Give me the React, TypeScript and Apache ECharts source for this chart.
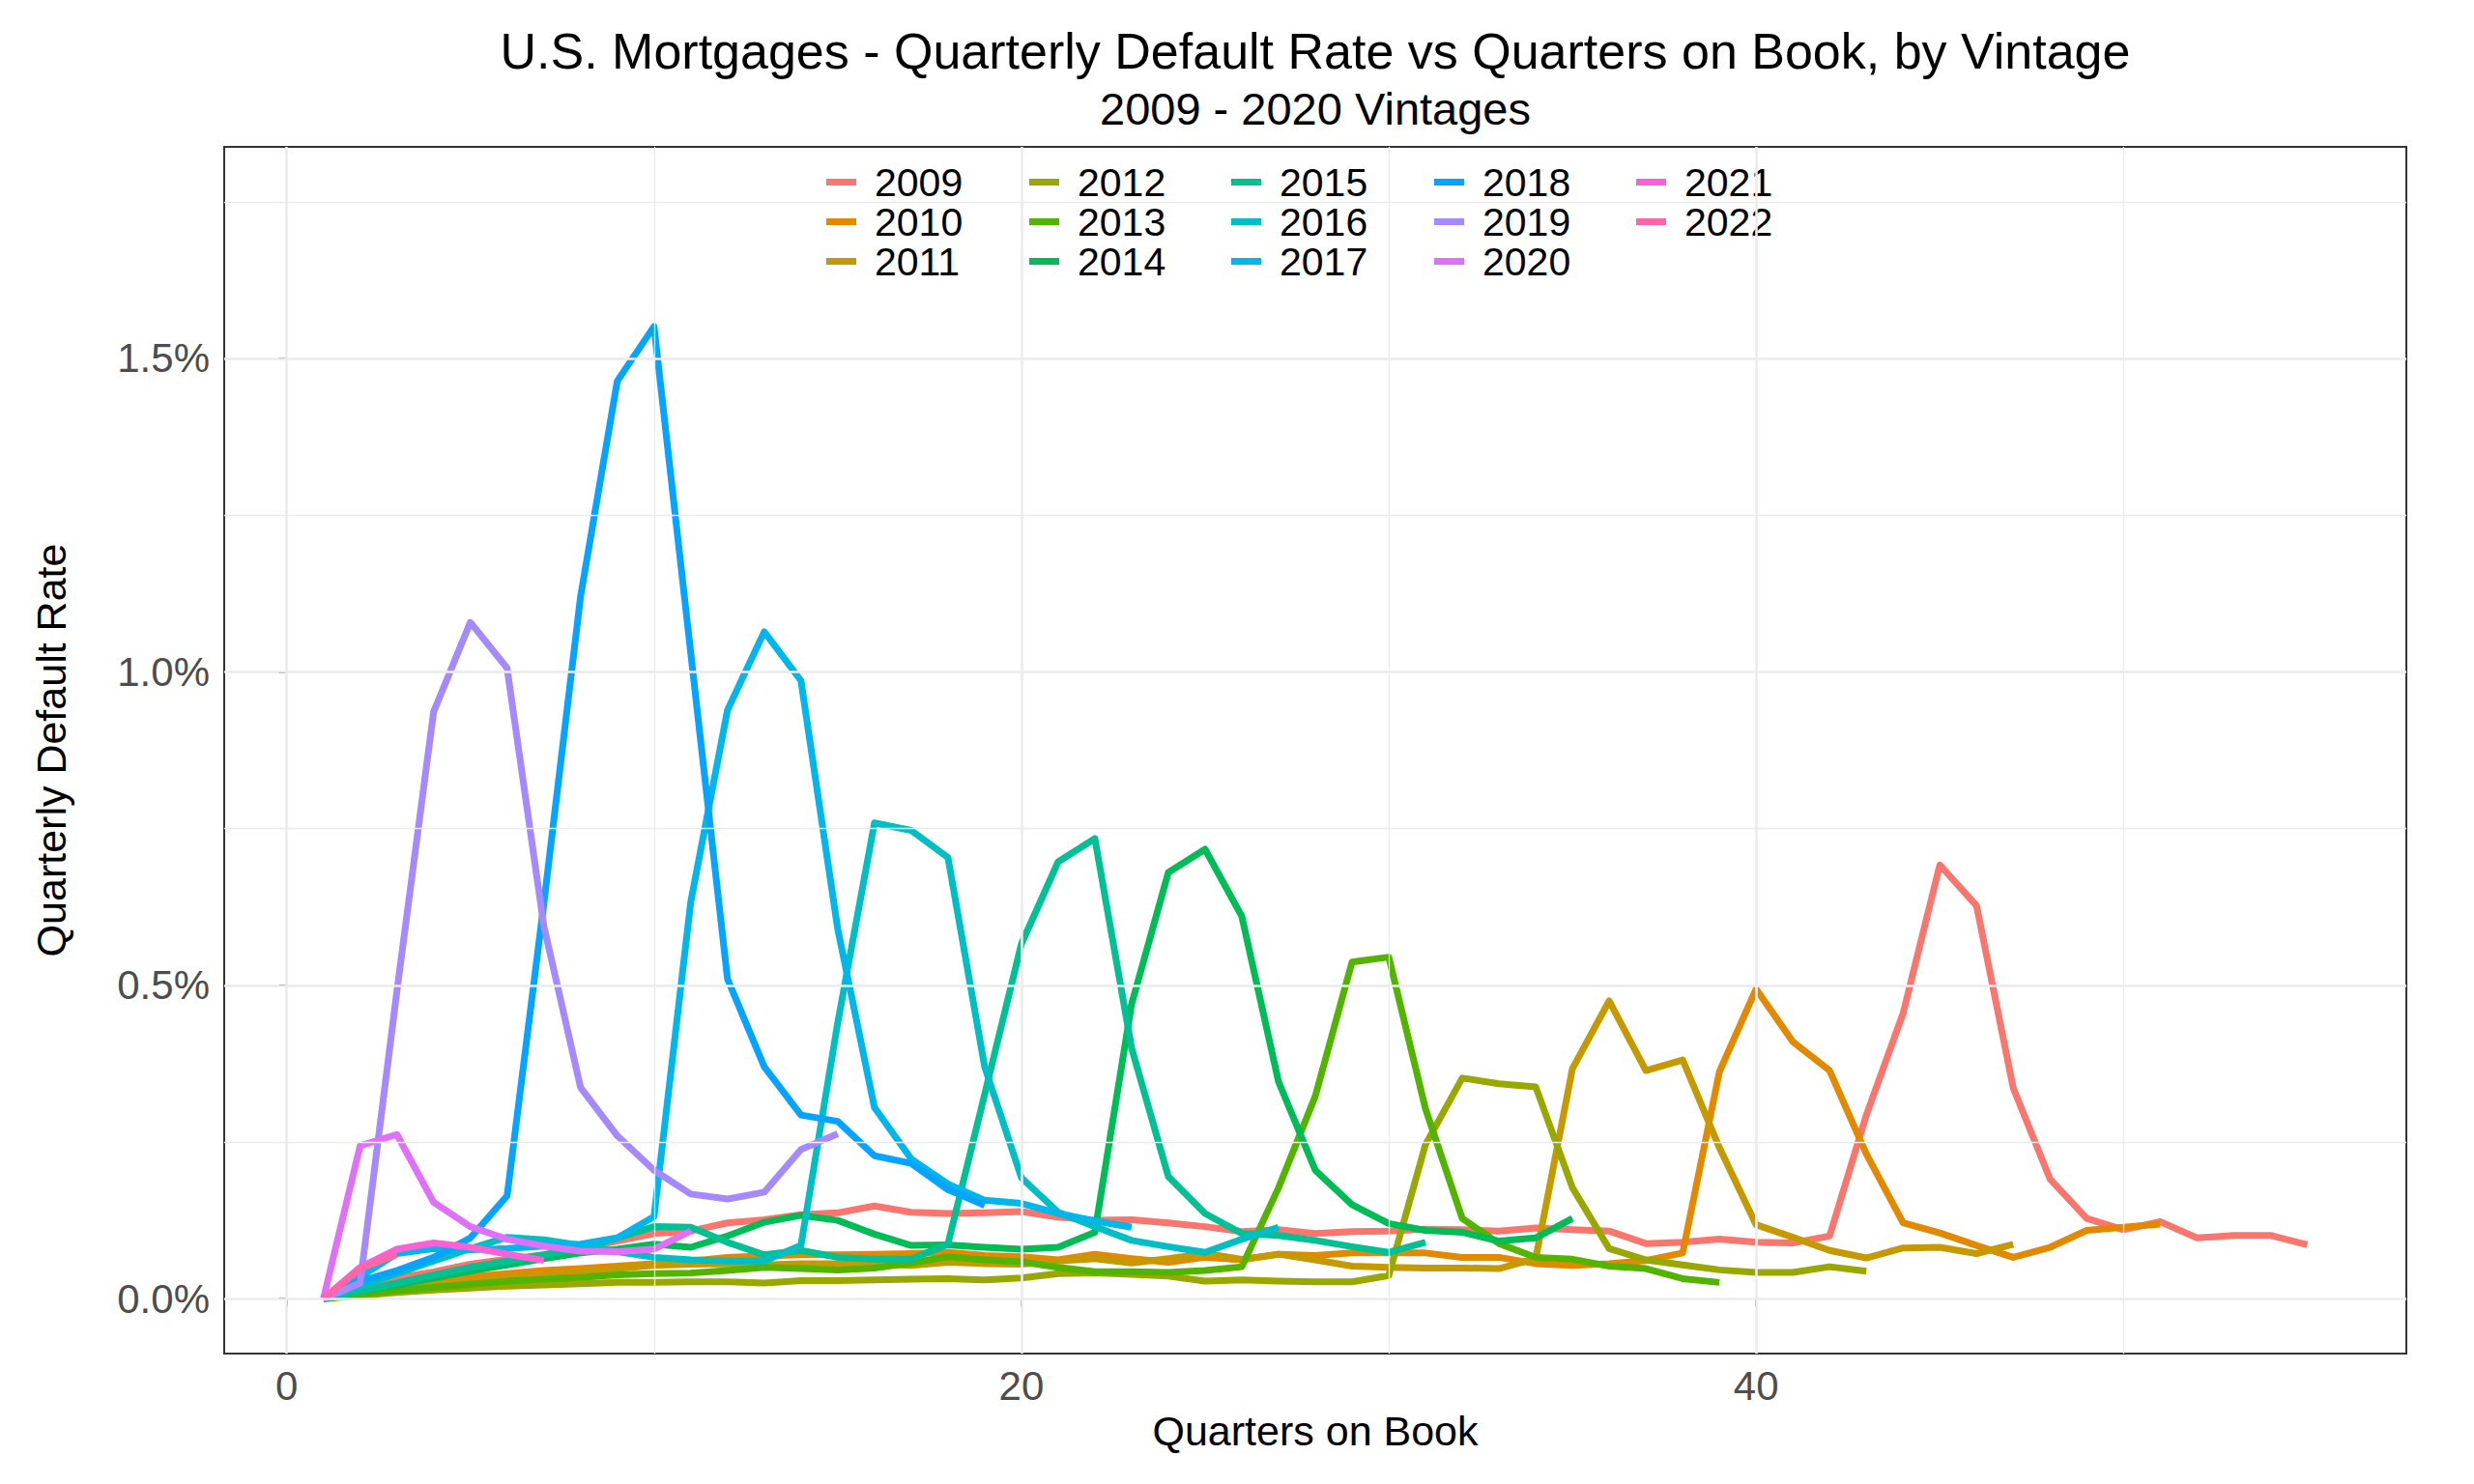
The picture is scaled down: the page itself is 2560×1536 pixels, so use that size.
import React, { useEffect, useRef } from "react";
import * as echarts from "echarts";

const FONT = "'Liberation Sans', Arial, sans-serif";

const vintages = ["2009", "2010", "2011", "2012", "2013", "2014", "2015", "2016", "2017", "2018", "2019", "2020", "2021", "2022"];
const vintageColors = ["#F8766D", "#E38900", "#C49A00", "#99A800", "#53B400", "#00BC56", "#00C094", "#00BFC4", "#00B6EB", "#06A4FF", "#A58AFF", "#DF70F8", "#FB61D7", "#FF66A8"];

// Quarterly default rate (%) by quarter on book (index 0 = quarter 1)
const v2009 = [0, 0.018, 0.033, 0.043, 0.055, 0.063, 0.07, 0.08, 0.092, 0.104, 0.108, 0.121, 0.126, 0.134, 0.137, 0.148, 0.138, 0.136, 0.137, 0.139, 0.13, 0.125, 0.126, 0.121, 0.115, 0.107, 0.11, 0.104, 0.107, 0.108, 0.111, 0.11, 0.108, 0.113, 0.11, 0.108, 0.088, 0.09, 0.095, 0.09, 0.089, 0.1, 0.293, 0.455, 0.692, 0.627, 0.336, 0.191, 0.128, 0.11, 0.123, 0.097, 0.101, 0.101, 0.086];
const v2010 = [0, 0.01, 0.02, 0.028, 0.035, 0.04, 0.045, 0.048, 0.052, 0.056, 0.06, 0.066, 0.068, 0.07, 0.07, 0.071, 0.072, 0.074, 0.069, 0.067, 0.062, 0.071, 0.064, 0.058, 0.066, 0.062, 0.071, 0.069, 0.073, 0.073, 0.073, 0.066, 0.066, 0.056, 0.053, 0.056, 0.061, 0.073, 0.362, 0.494, 0.41, 0.364, 0.231, 0.121, 0.105, 0.085, 0.066, 0.082, 0.109, 0.114, 0.119];
const v2011 = [0, 0.008, 0.016, 0.022, 0.028, 0.033, 0.037, 0.043, 0.048, 0.053, 0.055, 0.056, 0.054, 0.056, 0.056, 0.056, 0.053, 0.058, 0.056, 0.055, 0.06, 0.064, 0.057, 0.064, 0.072, 0.063, 0.071, 0.062, 0.052, 0.05, 0.049, 0.049, 0.048, 0.064, 0.367, 0.475, 0.364, 0.381, 0.241, 0.118, 0.098, 0.077, 0.065, 0.081, 0.082, 0.072, 0.087];
const v2012 = [0, 0.005, 0.01, 0.014, 0.017, 0.02, 0.022, 0.024, 0.026, 0.026, 0.027, 0.027, 0.025, 0.029, 0.029, 0.03, 0.031, 0.032, 0.03, 0.033, 0.04, 0.041, 0.039, 0.036, 0.028, 0.03, 0.028, 0.027, 0.027, 0.037, 0.246, 0.352, 0.343, 0.338, 0.177, 0.08, 0.062, 0.054, 0.046, 0.042, 0.042, 0.051, 0.044];
const v2013 = [0, 0.007, 0.013, 0.018, 0.023, 0.028, 0.031, 0.034, 0.038, 0.04, 0.041, 0.045, 0.05, 0.048, 0.046, 0.049, 0.057, 0.067, 0.062, 0.059, 0.05, 0.043, 0.043, 0.042, 0.045, 0.051, 0.177, 0.323, 0.537, 0.545, 0.303, 0.128, 0.088, 0.066, 0.063, 0.052, 0.048, 0.032, 0.026];
const v2014 = [0, 0.012, 0.022, 0.033, 0.044, 0.054, 0.064, 0.073, 0.079, 0.087, 0.082, 0.1, 0.122, 0.133, 0.125, 0.103, 0.085, 0.086, 0.082, 0.079, 0.082, 0.106, 0.47, 0.68, 0.717, 0.61, 0.346, 0.205, 0.15, 0.12, 0.109, 0.106, 0.092, 0.097, 0.128];
const v2015 = [0, 0.012, 0.025, 0.038, 0.05, 0.06, 0.07, 0.08, 0.097, 0.115, 0.114, 0.09, 0.07, 0.077, 0.066, 0.063, 0.063, 0.087, 0.326, 0.566, 0.697, 0.734, 0.4, 0.195, 0.136, 0.104, 0.101, 0.093, 0.083, 0.074, 0.09];
const v2016 = [0, 0.02, 0.04, 0.06, 0.08, 0.098, 0.094, 0.085, 0.075, 0.066, 0.062, 0.06, 0.06, 0.085, 0.44, 0.759, 0.747, 0.704, 0.37, 0.193, 0.138, 0.115, 0.093, 0.083, 0.074, 0.095, 0.114];
const v2017 = [0, 0.035, 0.072, 0.08, 0.078, 0.08, 0.084, 0.087, 0.097, 0.131, 0.633, 0.939, 1.064, 0.986, 0.59, 0.305, 0.223, 0.183, 0.157, 0.152, 0.136, 0.124, 0.114];
const v2018 = [0, 0.028, 0.045, 0.066, 0.097, 0.164, 0.63, 1.12, 1.464, 1.551, 1.03, 0.51, 0.37, 0.293, 0.283, 0.228, 0.216, 0.174, 0.149];
const v2019 = [0, 0.025, 0.49, 0.936, 1.079, 1.006, 0.595, 0.337, 0.26, 0.205, 0.167, 0.159, 0.17, 0.238, 0.263];
const v2020 = [0, 0.244, 0.262, 0.154, 0.115, 0.095, 0.084, 0.076, 0.075, 0.079, 0.108];
const v2021 = [0, 0.05, 0.079, 0.089, 0.082, 0.071, 0.061];
const v2022 = [0, 0.048, 0.071];

const seriesValues = [v2009, v2010, v2011, v2012, v2013, v2014, v2015, v2016, v2017, v2018, v2019, v2020, v2021, v2022];

const xMajorTicks = [0, 20, 40];
const xMinorTicks = [10, 30, 50];
const yMajorTicks = [0, 0.5, 1.0, 1.5];
const yMinorTicks = [0.25, 0.75, 1.25, 1.75];

const legendColumns = [
  ["2009", "2010", "2011"],
  ["2012", "2013", "2014"],
  ["2015", "2016", "2017"],
  ["2018", "2019", "2020"],
  ["2021", "2022"],
];
const legendLefts = [855, 1065, 1274, 1484, 1693];

export default function App() {
  const ref = useRef<HTMLDivElement>(null);

  useEffect(() => {
    if (!ref.current) return;
    const chart = echarts.init(ref.current, null, { renderer: "svg" });

    const minorStyle = { color: "#EBEBEB", width: 1.3, type: "solid" };
    const majorStyle = { color: "#EBEBEB", width: 2.6, type: "solid" };

    const gridSeries = {
      name: "_grid",
      type: "line",
      data: [[0, 0]],
      symbol: "none",
      showSymbol: false,
      lineStyle: { opacity: 0 },
      silent: true,
      z: 1,
      markLine: {
        silent: true,
        symbol: ["none", "none"],
        label: { show: false },
        emphasis: { disabled: true },
        animation: false,
        data: [
          ...xMinorTicks.map((v) => ({ xAxis: v, lineStyle: minorStyle })),
          ...yMinorTicks.map((v) => ({ yAxis: v, lineStyle: minorStyle })),
          ...xMajorTicks.map((v) => ({ xAxis: v, lineStyle: majorStyle })),
          ...yMajorTicks.map((v) => ({ yAxis: v, lineStyle: majorStyle })),
        ],
      },
    };

    const lineSeries = vintages.map((name, k) => ({
      name,
      type: "line",
      data: seriesValues[k].map((v, i) => [i + 1, v]),
      symbol: "none",
      showSymbol: false,
      silent: true,
      z: 2,
      emphasis: { disabled: true },
      itemStyle: { color: vintageColors[k] },
      lineStyle: { width: 7, color: vintageColors[k], cap: "butt", join: "round" },
    }));

    const legends = legendColumns.map((col, c) => ({
      data: col,
      orient: "vertical",
      left: legendLefts[c],
      top: 168,
      padding: 0,
      itemGap: 0,
      itemWidth: 31,
      itemHeight: 7,
      icon: "rect",
      selectedMode: false,
      backgroundColor: "#ffffff",
      textStyle: {
        fontSize: 41,
        color: "#000000",
        fontFamily: FONT,
        padding: [0, 4, 0, 14],
      },
    }));

    chart.setOption({
      animation: false,
      backgroundColor: "#ffffff",
      title: {
        text: "U.S. Mortgages - Quarterly Default Rate vs Quarters on Book, by Vintage",
        subtext: "2009 - 2020 Vintages",
        left: 1361,
        top: 27,
        textAlign: "center",
        padding: 0,
        itemGap: 10,
        textStyle: { fontSize: 52, fontWeight: "normal", color: "#000000", fontFamily: FONT, lineHeight: 52 },
        subtextStyle: { fontSize: 47, color: "#000000", fontFamily: FONT, lineHeight: 47 },
      },
      legend: legends,
      grid: {
        left: 232,
        top: 152,
        width: 2258,
        height: 1249,
        show: true,
        borderColor: "#333333",
        borderWidth: 2,
        backgroundColor: "#ffffff",
        containLabel: false,
      },
      xAxis: {
        type: "value",
        min: -1.7,
        max: 57.7,
        name: "Quarters on Book",
        nameLocation: "middle",
        nameGap: 55,
        nameTextStyle: { fontSize: 43, color: "#000000", fontFamily: FONT },
        axisLine: { show: false },
        splitLine: { show: false },
        axisTick: { show: true, length: 8, customValues: xMajorTicks, lineStyle: { color: "#333333", width: 2 } },
        axisLabel: {
          customValues: xMajorTicks,
          margin: 12,
          fontSize: 42,
          color: "#4D4D4D",
          fontFamily: FONT,
          formatter: (v: number) => String(v),
        },
      },
      yAxis: {
        type: "value",
        min: -0.0875,
        max: 1.8375,
        name: "Quarterly Default Rate",
        nameLocation: "middle",
        nameGap: 158,
        nameTextStyle: { fontSize: 43, color: "#000000", fontFamily: FONT },
        axisLine: { show: false },
        splitLine: { show: false },
        axisTick: { show: true, length: 8, customValues: yMajorTicks, lineStyle: { color: "#333333", width: 2 } },
        axisLabel: {
          customValues: yMajorTicks,
          margin: 15,
          fontSize: 42,
          color: "#4D4D4D",
          fontFamily: FONT,
          formatter: (v: number) => v.toFixed(1) + "%",
        },
      },
      series: [gridSeries, ...lineSeries],
    });

    return () => {
      chart.dispose();
    };
  }, []);

  return (
    <div
      ref={ref}
      style={{ position: "absolute", left: 0, top: 0, width: 2560, height: 1536, background: "#ffffff" }}
    />
  );
}
